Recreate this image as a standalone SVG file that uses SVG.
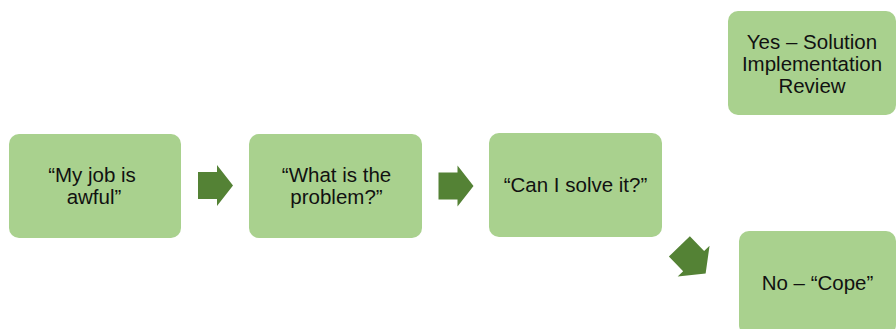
<svg xmlns="http://www.w3.org/2000/svg" xmlns:xlink="http://www.w3.org/1999/xlink" width="896" height="329" viewBox="0 0 896 329">
  <style>
    .box { fill: #a9d18e; }
    .lbl { font-family: "Liberation Sans", Arial, sans-serif; font-size: 20.5px; fill: #111111; text-anchor: middle; }
    .arrow { fill: #548235; }
  </style>
  <defs>
    <path id="blockArrow" class="arrow" d="M-17.5,-13.5 H1.5 V-20.5 L17.5,0 L1.5,20.5 V13.5 H-17.5 Z"/>
  </defs>
  <rect width="896" height="329" fill="#ffffff"/>

  <g id="connectors">
    <use xlink:href="#blockArrow" href="#blockArrow" transform="translate(215.5,185.5)"/>
    <use xlink:href="#blockArrow" href="#blockArrow" transform="translate(456,186)"/>
    <use xlink:href="#blockArrow" href="#blockArrow" transform="translate(692.5,260) rotate(46) scale(1.08)"/>
  </g>

  <g id="node-job">
    <rect class="box" x="9" y="134" width="172" height="104" rx="10"/>
    <text class="lbl" x="92" y="181.5">“My job is</text>
    <text class="lbl" x="94" y="203.5">awful”</text>
  </g>

  <g id="node-problem">
    <rect class="box" x="249" y="134" width="173" height="104" rx="10"/>
    <text class="lbl" x="336.5" y="181.5">“What is the</text>
    <text class="lbl" x="336.5" y="203.5">problem?”</text>
  </g>

  <g id="node-solve">
    <rect class="box" x="489" y="133" width="173" height="104" rx="10"/>
    <text class="lbl" x="575.5" y="192">“Can I solve it?”</text>
  </g>

  <g id="node-yes">
    <rect class="box" x="728" y="11" width="168" height="104" rx="10"/>
    <text class="lbl" x="812" y="49">Yes – Solution</text>
    <text class="lbl" x="812" y="71">Implementation</text>
    <text class="lbl" x="812" y="93">Review</text>
  </g>

  <g id="node-no">
    <rect class="box" x="739" y="231" width="157" height="104" rx="10"/>
    <text class="lbl" x="817.5" y="290">No – “Cope”</text>
  </g>
</svg>
